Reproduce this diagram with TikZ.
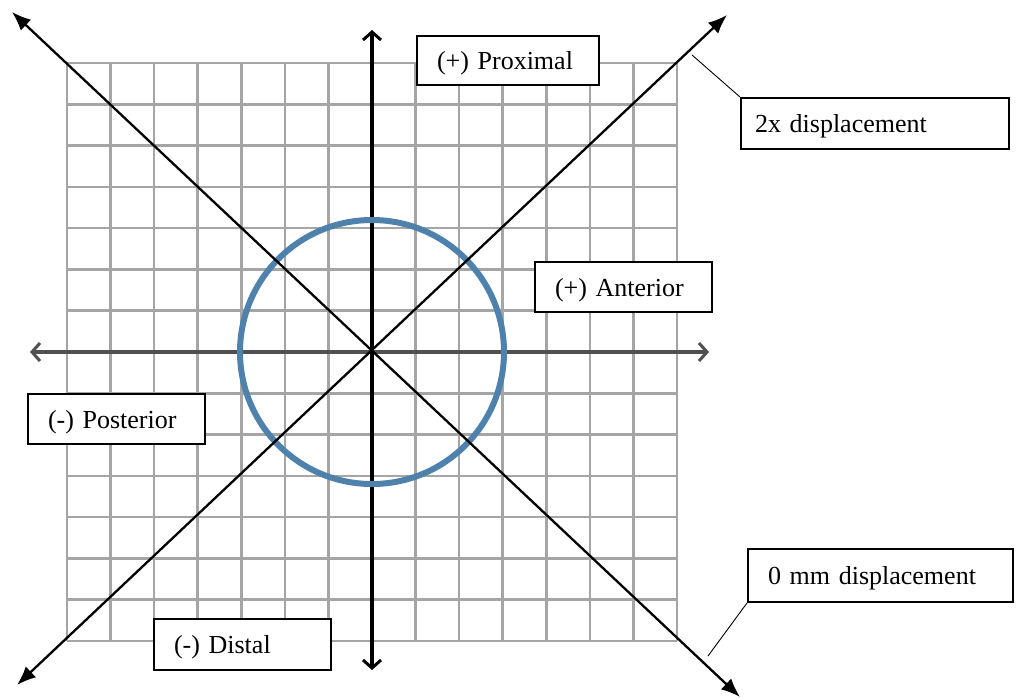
\documentclass[tikz,border=0pt]{standalone}
\usepackage{fontspec}
\setmainfont{Liberation Serif}
\usepackage{xcolor}
\usetikzlibrary{arrows.meta,positioning}
\definecolor{gridGray}{RGB}{165,165,165}
\definecolor{axisGray}{RGB}{80,80,80}
\definecolor{ringBlue}{RGB}{78,130,172}
\newcommand{\BoxFont}{\fontsize{26}{30}\selectfont}
\tikzset{
  gridline/.style={draw=gridGray,line width=2.6pt},
  axisline/.style={line width=4pt,{Straight Barb[length=8pt,width=18pt,line width=3pt]}-{Straight Barb[length=8pt,width=18pt,line width=3pt]}},
  diagline/.style={draw=black,line width=2.3pt,{Latex[length=19pt,width=15pt]}-{Latex[length=19pt,width=15pt]}},
  leader/.style={draw=black,line width=0.9pt},
  labelbox/.style={draw=black,line width=2pt,fill=white,anchor=north west,font=\BoxFont,align=left,inner ysep=0pt,inner xsep=20pt,text height=24pt,text depth=6pt,text width=#1}
}

\begin{document}
\begin{tikzpicture}[x=1pt,y=-1pt]
\useasboundingbox (0,0) rectangle (1016,698);
\foreach \i in {0,...,14}{
  \draw[gridline] ({67+\i*43.57},63) -- ({67+\i*43.57},641);
  \draw[gridline] (67,{63+\i*41.29}) -- (677,{63+\i*41.29});
}
\coordinate (origin) at (372,352);
\coordinate (westEnd) at (30,352);
\coordinate (eastEnd) at (709,352);
\coordinate (northEnd) at (372,30);
\coordinate (southEnd) at (372,670);
\coordinate (nwTip) at (12,12);
\coordinate (seTip) at (740,697);
\coordinate (neTip) at (727,15);
\coordinate (swTip) at (17,685);
\draw[axisline,draw=axisGray] (westEnd) -- (eastEnd);
\draw[axisline,draw=black] (northEnd) -- (southEnd);
\draw[draw=ringBlue,line width=6pt] (origin) circle[radius=132pt];
\draw[diagline] (nwTip) -- (seTip);
\draw[diagline] (swTip) -- (neTip);
\node[labelbox=142pt,minimum height=49pt] (proximal) at (416,35) {(+) Proximal};
\node[labelbox=137pt,minimum height=50pt] (anterior) at (534,261) {(+) Anterior};
\node[labelbox=137pt,minimum height=50pt] (posterior) at (27,393) {(-) Posterior};
\node[labelbox=137pt,minimum height=51pt] (distal) at (153,618) {(-) Distal};
\node[labelbox=240pt,inner xsep=14pt,minimum height=51pt] (twoX) at (740,97) {2x displacement};
\node[labelbox=225pt,minimum height=53pt] (zeroMM) at (747,548) {0 mm displacement};
\coordinate (twoXfoot) at (692,55);
\coordinate (zeroMMfoot) at (708,656);
\draw[leader] (twoX.north west) -- (twoXfoot);
\draw[leader] (zeroMM.south west) -- (zeroMMfoot);
\end{tikzpicture}
\end{document}
